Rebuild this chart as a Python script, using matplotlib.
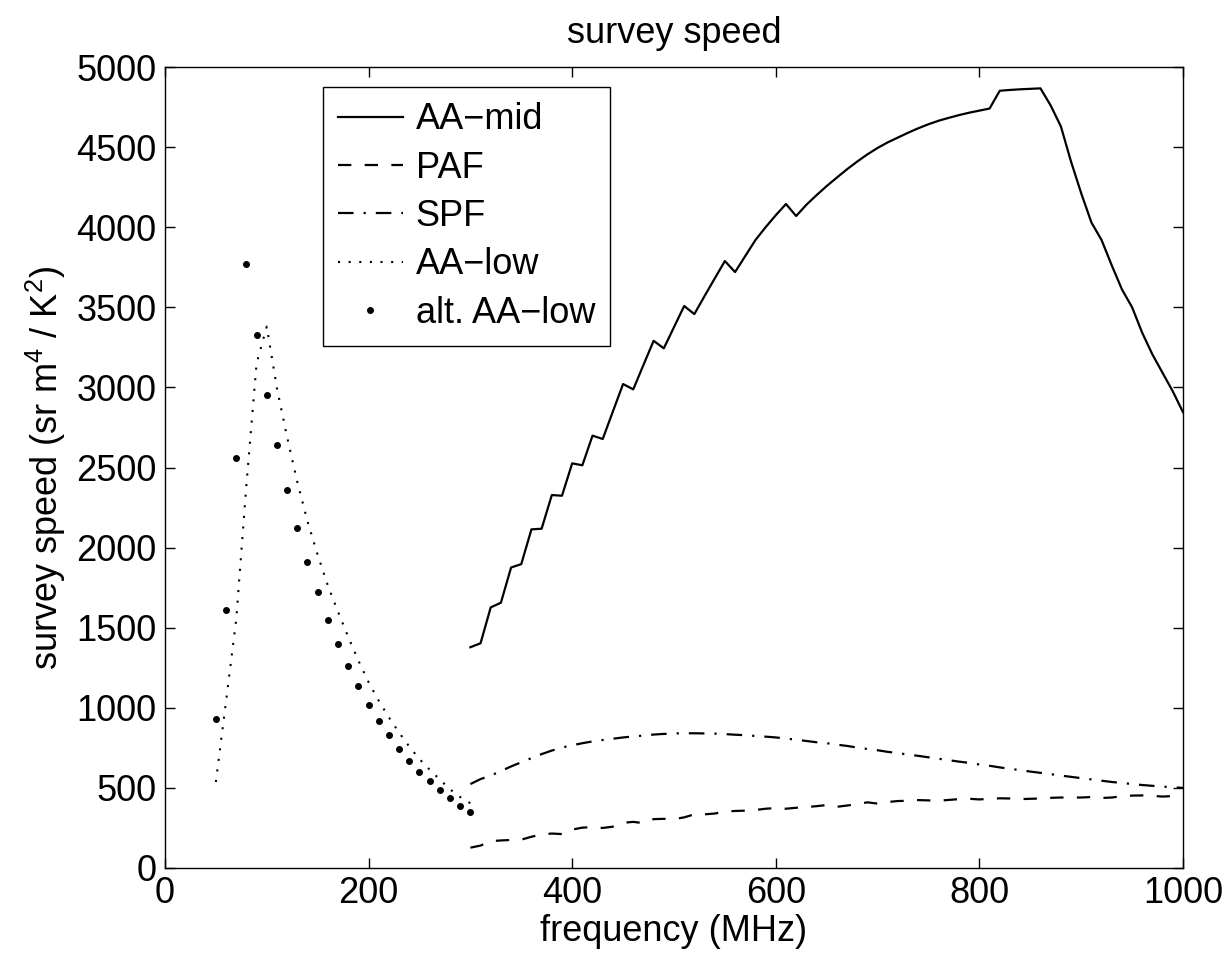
import matplotlib
matplotlib.use("Agg")
import matplotlib.pyplot as plt

plt.rcParams['font.family'] = ['Liberation Sans', 'DejaVu Sans']
plt.rcParams['mathtext.fontset'] = 'custom'
plt.rcParams['mathtext.rm'] = 'Liberation Sans'
plt.rcParams['mathtext.it'] = 'Liberation Sans'

# AA-mid (solid), 300..1000 MHz every 10 MHz
f_mid = list(range(300, 1001, 10))
aa_mid = [1378, 1403, 1627, 1656, 1876, 1897, 2114, 2118, 2328, 2324,
          2526, 2514, 2699, 2678, 2850, 3021, 2988, 3140, 3291, 3244,
          3376, 3508, 3458, 3570, 3680, 3789, 3720, 3820, 3920, 4000,
          4075, 4145, 4070, 4140, 4200, 4257, 4310, 4362, 4410, 4455,
          4495, 4530, 4560, 4590, 4618, 4643, 4665, 4683, 4700, 4715,
          4728, 4741, 4852, 4857, 4861, 4864, 4867, 4760, 4630, 4410,
          4212, 4030, 3920, 3762, 3612, 3500, 3340, 3205, 3090, 2975,
          2845]

# PAF (dashed)
paf = [127, 140, 168, 172, 175, 177, 195, 210, 215, 212,
       240, 252, 255, 250, 258, 282, 288, 280, 305, 307,
       305, 316, 335, 335, 340, 352, 356, 358, 362, 370,
       374, 370, 376, 380, 386, 393, 382, 390, 398, 410,
       402, 412, 418, 420, 424, 422, 420, 425, 430, 432,
       428, 432, 435, 434, 430, 432, 434, 438, 440, 440,
       440, 443, 437, 440, 448, 452, 453, 450, 446, 449,
       452]

# SPF (dash-dot)
spf = [524, 555, 577, 605, 634, 660, 686, 711, 733, 752,
       766, 779, 790, 799, 807, 815, 821, 827, 833, 837,
       840, 841, 841, 840, 839, 836, 832, 829, 824, 820,
       815, 808, 801, 793, 785, 779, 770, 762, 752, 743,
       735, 725, 717, 708, 700, 691, 682, 673, 664, 656,
       646, 638, 628, 619, 611, 602, 594, 586, 577, 569,
       561, 553, 545, 537, 531, 524, 518, 513, 508, 504,
       500]

# AA-low (dotted)
f_low = [50, 60, 70, 80, 90, 100, 110, 120, 130, 140, 150, 160, 170, 180,
         190, 200, 210, 220, 230, 240, 250, 260, 270, 280, 290, 300]
aa_low = [537, 1040, 1550, 2390, 3150, 3380, 2995, 2690, 2410, 2165,
          1955, 1763, 1600, 1443, 1295, 1160, 1044, 940, 845, 758,
          680, 614, 552, 491, 443, 404]

# alt. AA-low (dots)
alt_low = [930, 1610, 2560, 3770, 3330, 2950, 2640, 2360, 2120, 1910,
           1720, 1550, 1400, 1260, 1135, 1020, 920, 830, 745, 670,
           600, 540, 485, 435, 390, 350]

fig = plt.figure(figsize=(12.3, 9.55), dpi=100)
ax = fig.add_axes([0.1341, 0.0911, 0.8277, 0.8387])

ax.plot(f_mid, aa_mid, color='black', lw=1.6, label='AA\u2212mid')
ax.plot(f_mid, paf, color='black', lw=1.6, linestyle=(0, (6, 6)), label='PAF')
ax.plot(f_mid, spf, color='black', lw=1.6, linestyle=(0, (7, 4.5, 1, 4.5)), label='SPF')
ax.plot(f_low, aa_low, color='black', lw=1.5, linestyle=(0, (1, 4.1)), label='AA\u2212low')
ax.plot(f_low, alt_low, color='black', linestyle='none', marker='.', ms=8, label='alt. AA\u2212low')

ax.set_xlim(0, 1000)
ax.set_ylim(0, 5000)
ax.set_xticks(range(0, 1001, 200))
ax.set_yticks(range(0, 5001, 500))
ax.tick_params(direction='in', length=7, width=1, labelsize=26, pad=6,
               top=True, right=True)
for s in ax.spines.values():
    s.set_linewidth(1)

ax.set_title('survey speed', fontsize=26, pad=17)
ax.set_xlabel('frequency (MHz)', fontsize=26, labelpad=2)
ax.set_ylabel('survey speed (sr m$^4$ / K$^2$)', fontsize=26, labelpad=6)

leg = ax.legend(loc='upper left', bbox_to_anchor=(0.155, 0.975), borderaxespad=0,
                fontsize=26, frameon=True, fancybox=False, edgecolor='black',
                framealpha=1, handlelength=1.8, handletextpad=0.35,
                labelspacing=0.37, borderpad=0.42)
leg.get_frame().set_linewidth(1)

fig.savefig('out.png', dpi=100)
